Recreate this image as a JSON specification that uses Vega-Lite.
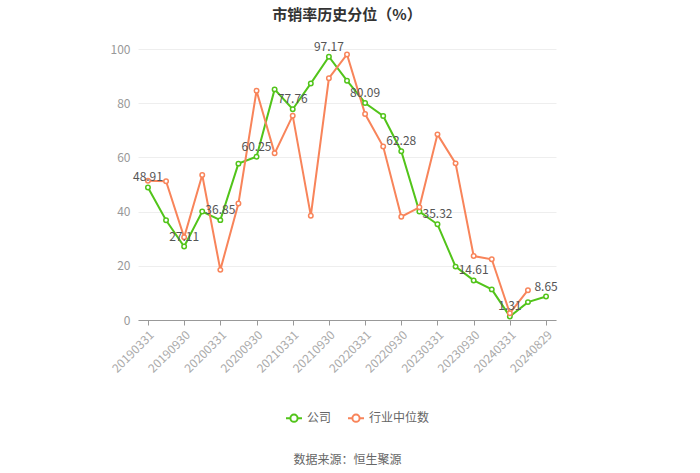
{
  "$schema": "https://vega.github.io/schema/vega-lite/v6.json",
  "width": 418,
  "height": 271,
  "autosize": {"type": "none"},
  "padding": {"left": 138, "top": 49, "right": 144, "bottom": 153},
  "config": {
    "font": "Noto Sans CJK SC",
    "view": {"stroke": null}
  },
  "title": {
    "text": "市销率历史分位（%）",
    "fontSize": 15,
    "fontWeight": "bold",
    "color": "#333333",
    "anchor": "middle",
    "offset": 18
  },
  "datasets": {
    "rows": [
      {"date": "20190331", "series": "公司", "value": 48.91},
      {"date": "20190630", "series": "公司", "value": 36.8},
      {"date": "20190930", "series": "公司", "value": 27.11},
      {"date": "20191231", "series": "公司", "value": 40.0},
      {"date": "20200331", "series": "公司", "value": 36.85},
      {"date": "20200630", "series": "公司", "value": 57.7},
      {"date": "20200930", "series": "公司", "value": 60.25},
      {"date": "20201231", "series": "公司", "value": 85.1},
      {"date": "20210331", "series": "公司", "value": 77.76},
      {"date": "20210630", "series": "公司", "value": 87.3},
      {"date": "20210930", "series": "公司", "value": 97.17},
      {"date": "20211231", "series": "公司", "value": 88.3},
      {"date": "20220331", "series": "公司", "value": 80.09},
      {"date": "20220630", "series": "公司", "value": 75.3},
      {"date": "20220930", "series": "公司", "value": 62.28},
      {"date": "20221231", "series": "公司", "value": 40.0},
      {"date": "20230331", "series": "公司", "value": 35.32},
      {"date": "20230630", "series": "公司", "value": 19.7},
      {"date": "20230930", "series": "公司", "value": 14.61},
      {"date": "20231231", "series": "公司", "value": 11.3},
      {"date": "20240331", "series": "公司", "value": 1.31},
      {"date": "20240630", "series": "公司", "value": 6.6},
      {"date": "20240829", "series": "公司", "value": 8.65},
      {"date": "20190331", "series": "行业中位数", "value": 51.4},
      {"date": "20190630", "series": "行业中位数", "value": 51.2},
      {"date": "20190930", "series": "行业中位数", "value": 30.5},
      {"date": "20191231", "series": "行业中位数", "value": 53.5},
      {"date": "20200331", "series": "行业中位数", "value": 18.5},
      {"date": "20200630", "series": "行业中位数", "value": 43.0},
      {"date": "20200930", "series": "行业中位数", "value": 84.6},
      {"date": "20201231", "series": "行业中位数", "value": 61.5},
      {"date": "20210331", "series": "行业中位数", "value": 75.4},
      {"date": "20210630", "series": "行业中位数", "value": 38.5},
      {"date": "20210930", "series": "行业中位数", "value": 89.2},
      {"date": "20211231", "series": "行业中位数", "value": 98.0},
      {"date": "20220331", "series": "行业中位数", "value": 76.0},
      {"date": "20220630", "series": "行业中位数", "value": 64.0},
      {"date": "20220930", "series": "行业中位数", "value": 38.1},
      {"date": "20221231", "series": "行业中位数", "value": 41.6},
      {"date": "20230331", "series": "行业中位数", "value": 68.5},
      {"date": "20230630", "series": "行业中位数", "value": 57.8},
      {"date": "20230930", "series": "行业中位数", "value": 23.6},
      {"date": "20231231", "series": "行业中位数", "value": 22.4},
      {"date": "20240331", "series": "行业中位数", "value": 2.5},
      {"date": "20240630", "series": "行业中位数", "value": 11.0}
    ]
  },
  "data": {"name": "rows"},
  "encoding": {
    "x": {
      "field": "date",
      "type": "ordinal",
      "sort": null,
      "scale": {"type": "point", "padding": 0.55},
      "axis": {
        "values": ["20190331","20190930","20200331","20200930","20210331","20210930","20220331","20220930","20230331","20230930","20240331","20240829"],
        "labelAngle": -45,
        "labelColor": "#aaaaaa",
        "labelFontSize": 12,
        "labelPadding": 4,
        "domainColor": "#999999",
        "tickColor": "#999999",
        "tickSize": 5,
        "grid": false,
        "title": "数据来源：恒生聚源",
        "titleColor": "#666666",
        "titleFontSize": 12,
        "titleFontWeight": "normal",
        "titlePadding": 80
      }
    },
    "y": {
      "field": "value",
      "type": "quantitative",
      "scale": {"domain": [0, 100]},
      "axis": {
        "values": [0, 20, 40, 60, 80, 100],
        "domain": false,
        "ticks": false,
        "gridColor": "#eeeeee",
        "labelColor": "#999999",
        "labelFontSize": 12,
        "labelPadding": 8,
        "title": null
      }
    }
  },
  "layer": [
    {
      "mark": {
        "type": "line",
        "strokeWidth": 2,
        "point": {"filled": false, "fill": "white", "size": 20, "strokeWidth": 1.5}
      },
      "encoding": {
        "color": {
          "field": "series",
          "type": "nominal",
          "scale": {"domain": ["公司", "行业中位数"], "range": ["#52C41A", "#F8845A"]},
          "legend": {
            "orient": "none",
            "legendX": 147,
            "legendY": 360,
            "direction": "horizontal",
            "title": null,
            "symbolType": "M-1,0L-0.45,0M0.45,0L1,0M-0.45,0A0.45,0.45,0,1,1,0.45,0A0.45,0.45,0,1,1,-0.45,0",
            "symbolSize": 256,
            "symbolStrokeWidth": 2,
            "symbolFillColor": "white",
            "labelFontSize": 12,
            "labelColor": "#666666",
            "columnPadding": 12
          }
        }
      }
    },
    {
      "transform": [
        {"filter": {"field": "series", "equal": "公司"}},
        {"filter": {"field": "date", "oneOf": ["20190331","20190930","20200331","20200930","20210331","20210930","20220331","20220930","20230331","20230930","20240331","20240829"]}}
      ],
      "mark": {"type": "text", "dy": -10, "fontSize": 12, "color": "#555555"},
      "encoding": {
        "text": {"field": "value", "type": "quantitative", "format": ".2f"}
      }
    }
  ]
}
